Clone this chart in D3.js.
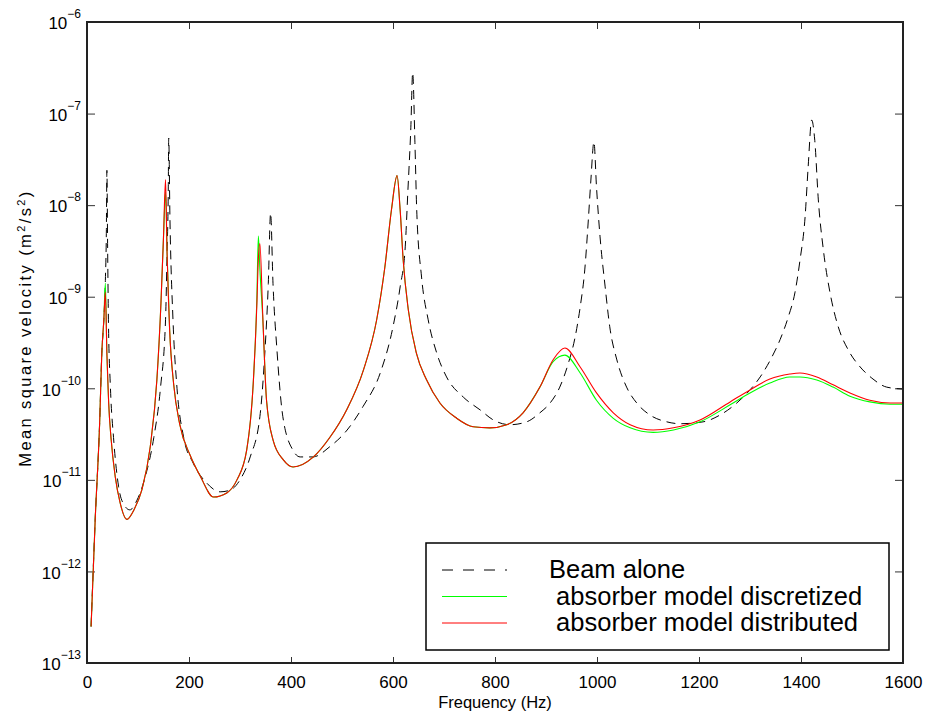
<!DOCTYPE html>
<html>
<head>
<meta charset="utf-8">
<script src="https://cdn.jsdelivr.net/npm/d3@7"></script>
<style>
  body { margin: 0; background: #fff; }
  svg { display: block; font-family: "Liberation Sans", Arial, sans-serif; }
</style>
</head>
<body>
<svg id="chart" width="926" height="714"></svg>
<script>
// beam alone (dashed)
var beamFreq = [8, 16, 25, 29, 33, 36, 38, 39, 40.5, 42, 46, 52, 62, 73, 84, 98, 114, 131, 144, 154,
    157, 159.4, 160.2, 162.7, 168.6, 176.5, 189.6, 208, 235, 261, 280, 300, 320, 339, 349, 355.5,
    360, 364.7, 372.5, 384, 404, 418, 443, 476, 510, 541, 575, 600, 614, 624, 629, 635, 638.6, 643,
    646.5, 656, 669, 686, 705, 738, 771, 797, 829, 862, 888, 908, 927, 944, 957, 967, 976, 983, 988,
    994, 999, 1006, 1016, 1025, 1039, 1058, 1078, 1104, 1137, 1163, 1208, 1241, 1274, 1300, 1320,
    1343, 1359, 1375, 1388, 1398, 1408, 1414, 1421, 1427, 1434, 1444, 1457, 1473, 1493, 1516, 1539,
    1568, 1600];
var beamAlone = [2.5e-13, 3.6e-12, 4.5e-11, 2.4e-10, 5.6e-10, 1.5e-9, 5.4e-9, 2.4e-8, 3.2e-9, 5.6e-10,
    1.0e-10, 2.9e-11, 8.4e-12, 5.3e-12, 4.7e-12, 6.0e-12, 1.07e-11, 2.9e-11, 1.0e-10, 5.6e-10,
    3.0e-9, 1.58e-8, 5.4e-8, 6.9e-9, 5.6e-10, 1.0e-10, 2.9e-11, 1.53e-11, 9.2e-12, 7.4e-12, 7.7e-12,
    1.0e-11, 1.78e-11, 4.9e-11, 2.6e-10, 1.4e-9, 8.2e-9, 1.4e-9, 2.6e-10, 4.9e-11, 2.1e-11, 1.78e-11,
    1.78e-11, 2.3e-11, 3.5e-11, 6.3e-11, 1.47e-10, 4.7e-10, 1.28e-9, 3.5e-9, 1.36e-8, 7.1e-8, 2.8e-7,
    4.8e-8, 8.9e-9, 1.64e-9, 5.6e-10, 2.4e-10, 1.33e-10, 8.0e-11, 5.8e-11, 4.5e-11, 4.0e-11, 4.3e-11,
    5.4e-11, 6.9e-11, 1.03e-10, 1.89e-10, 3.6e-10, 7.7e-10, 1.96e-9, 6.9e-9, 1.88e-8, 4.9e-8, 1.58e-8,
    4.5e-9, 1.28e-9, 4.7e-10, 2.04e-10, 1.03e-10, 6.9e-11, 5.1e-11, 4.3e-11, 4.1e-11, 4.3e-11, 5.1e-11,
    6.9e-11, 9.6e-11, 1.33e-10, 2.2e-10, 3.4e-10, 6.0e-10, 1.1e-9, 2.5e-9, 7.4e-9, 2.6e-8, 8.5e-8,
    5.1e-8, 1.14e-8, 3.2e-9, 1.1e-9, 4.7e-10, 2.6e-10, 1.71e-10, 1.29e-10, 1.03e-10, 9.8e-11];

// absorber models (solid)
var absFreq = [8, 16, 25, 29, 33, 36, 39, 42.5, 47, 55.5, 65, 78, 92, 108, 124, 137, 145, 150, 154,
    157, 162, 170, 182, 202, 222, 248, 274, 294, 313, 326, 333, 336, 339, 344.5, 352, 365, 385, 404,
    444, 476, 509, 542, 568, 584, 597, 608, 614, 620, 630, 646, 666, 692, 725, 757, 790, 823, 855,
    888, 914, 937, 967, 999, 1032, 1065, 1110, 1150, 1202, 1261, 1300, 1339, 1378, 1398, 1431, 1463,
    1496, 1535, 1575, 1600];
var absDiscretized = [2.5e-13, 3.6e-12, 4.5e-11, 2.4e-10, 5.6e-10, 1.4e-9, 2.4e-10, 6.9e-11, 2.9e-11,
    1.07e-11, 5.6e-12, 3.7e-12, 4.7e-12, 7.9e-12, 2.3e-11, 1.23e-10, 8.5e-10, 4.5e-9, 1.4e-8,
    3.0e-9, 4.4e-10, 1.1e-10, 4.0e-11, 1.87e-11, 1.1e-11, 6.5e-12, 7.2e-12, 1.0e-11, 2.1e-11,
    1.14e-10, 9.2e-10, 4.6e-9, 2.0e-9, 6.0e-10, 7.4e-11, 2.7e-11, 1.65e-11, 1.38e-11, 1.78e-11,
    2.9e-11, 5.8e-11, 1.58e-10, 5.6e-10, 2.1e-9, 8.9e-9, 2.1e-8, 8.9e-9, 2.5e-9, 7.2e-10, 2.4e-10,
    1.23e-10, 6.9e-11, 4.7e-11, 3.8e-11, 3.7e-11, 4.0e-11, 5.4e-11, 1.03e-10, 1.95e-10, 2.3e-10,
    1.47e-10, 7.4e-11, 4.7e-11, 3.7e-11, 3.3e-11, 3.5e-11, 4.3e-11, 6.6e-11, 8.9e-11, 1.14e-10,
    1.33e-10, 1.33e-10, 1.23e-10, 1.03e-10, 8.2e-11, 7.1e-11, 6.7e-11, 6.7e-11];
var absDistributed = [2.5e-13, 3.6e-12, 4.5e-11, 2.4e-10, 5.6e-10, 1.12e-9, 2.4e-10, 6.9e-11, 2.9e-11,
    1.07e-11, 5.6e-12, 3.7e-12, 4.7e-12, 7.9e-12, 2.3e-11, 1.23e-10, 8.5e-10, 4.5e-9, 1.9e-8,
    3.0e-9, 4.4e-10, 1.1e-10, 4.0e-11, 1.87e-11, 1.1e-11, 6.5e-12, 7.2e-12, 1.0e-11, 2.1e-11,
    1.14e-10, 8.0e-10, 2.6e-9, 3.8e-9, 6.5e-10, 7.4e-11, 2.7e-11, 1.65e-11, 1.38e-11, 1.78e-11,
    2.9e-11, 5.8e-11, 1.58e-10, 5.6e-10, 2.1e-9, 8.9e-9, 2.1e-8, 8.9e-9, 2.5e-9, 7.2e-10, 2.4e-10,
    1.23e-10, 6.9e-11, 4.7e-11, 3.8e-11, 3.7e-11, 4.0e-11, 5.4e-11, 1.03e-10, 2.05e-10, 2.75e-10,
    1.71e-10, 8.9e-11, 5.4e-11, 4.0e-11, 3.5e-11, 3.7e-11, 4.5e-11, 7.1e-11, 9.6e-11, 1.26e-10,
    1.43e-10, 1.47e-10, 1.33e-10, 1.09e-10, 8.9e-11, 7.4e-11, 6.9e-11, 6.9e-11];

var xTicks = [0, 200, 400, 600, 800, 1000, 1200, 1400, 1600];
var yExponents = [-13, -12, -11, -10, -9, -8, -7, -6];
var legendLabels = ["Beam alone", " absorber model discretized", " absorber model distributed"];

var svg = d3.select("#chart"),
    margin = { top: 22, right: 23, bottom: 51, left: 87 },
    width = +svg.attr("width") - margin.left - margin.right,
    height = +svg.attr("height") - margin.top - margin.bottom,
    g = svg.append("g").attr("transform", "translate(" + margin.left + "," + margin.top + ")");

var x = d3.scaleLinear().domain([0, 1600]).range([0, width]);
var y = d3.scaleLog().domain([1e-13, 1e-6]).range([height, 0]);
var yTickVals = yExponents.map(function (e) { return Math.pow(10, e); });

g.append("clipPath").attr("id", "clip")
    .append("rect").attr("width", width).attr("height", height);

// ticks point inward, on all four sides
g.append("g")
    .attr("class", "x axis")
    .attr("transform", "translate(0," + height + ")")
    .call(d3.axisBottom(x).tickValues(xTicks).tickFormat(d3.format("d"))
        .tickSizeInner(-6).tickSizeOuter(0).tickPadding(13));
g.append("g")
    .call(d3.axisTop(x).tickValues(xTicks).tickSizeInner(-7).tickSizeOuter(0).tickFormat(""));
g.append("g")
    .attr("class", "y axis")
    .call(d3.axisLeft(y).tickValues(yTickVals).tickSizeInner(-8).tickSizeOuter(0).tickPadding(6));
g.append("g")
    .attr("transform", "translate(" + width + ",0)")
    .call(d3.axisRight(y).tickValues(yTickVals).tickSizeInner(-8).tickSizeOuter(0).tickFormat(""));

g.selectAll(".domain").remove();
g.selectAll(".tick line").attr("stroke", "#333");
g.selectAll(".x.axis .tick text").attr("font-size", 17).attr("font-family", null).attr("fill", "#000");

// 10 with superscript exponent
g.selectAll(".y.axis .tick text")
    .attr("font-size", 17).attr("font-family", null).attr("fill", "#000").attr("dy", "0.4em")
    .each(function (d) {
        var t = d3.select(this).text(null);
        var e = Math.round(Math.log10(d));
        t.append("tspan").text("10");
        t.append("tspan").attr("dy", -11).attr("font-size", 12).text("\u2212" + Math.abs(e));
    });

var line = d3.line()
    .x(function (d) { return x(d[0]); })
    .y(function (d) { return y(d[1]); })
    .curve(d3.curveMonotoneX);

var curves = g.append("g").attr("clip-path", "url(#clip)");

curves.append("path")
    .datum(d3.zip(beamFreq, beamAlone))
    .attr("fill", "none").attr("stroke", "#000").attr("stroke-width", 1)
    .attr("stroke-dasharray", "9,6")
    .attr("d", line);
curves.append("path")
    .datum(d3.zip(absFreq, absDiscretized))
    .attr("fill", "none").attr("stroke", "#00ff00").attr("stroke-width", 1.1)
    .attr("d", line);
curves.append("path")
    .datum(d3.zip(absFreq, absDistributed))
    .attr("fill", "none").attr("stroke", "#ff0000").attr("stroke-width", 1.1)
    .attr("d", line);

// frame
g.append("rect")
    .attr("width", width).attr("height", height)
    .attr("fill", "none").attr("stroke", "#222").attr("stroke-width", 2);

g.append("text")
    .attr("x", width / 2).attr("y", height + 45)
    .attr("text-anchor", "middle").attr("font-size", 16.5)
    .text("Frequency (Hz)");

var yl = svg.append("text")
    .attr("transform", "translate(31,328) rotate(-90)")
    .attr("text-anchor", "middle").attr("font-size", 16.5)
    .attr("letter-spacing", 2.4);
yl.append("tspan").text("Mean square velocity (m");
yl.append("tspan").attr("dy", -6).attr("font-size", 11).text("2");
yl.append("tspan").attr("dy", 6).text("/s");
yl.append("tspan").attr("dy", -6).attr("font-size", 11).text("2");
yl.append("tspan").attr("dy", 6).text(")");

// legend
var legend = svg.append("g").attr("transform", "translate(426,543)");
legend.append("rect")
    .attr("width", 463).attr("height", 107)
    .attr("fill", "#fff").attr("stroke", "#000").attr("stroke-width", 1.5);

var legendStyles = [
    { color: "#000", dash: "11,10" },
    { color: "#00ff00", dash: null },
    { color: "#ff0000", dash: null }
];

var item = legend.selectAll(".item")
    .data(legendLabels)
    .enter().append("g")
    .attr("class", "item")
    .attr("transform", function (d, i) { return "translate(0," + (27 + i * 26.5) + ")"; });

item.append("line")
    .attr("x1", 16).attr("x2", 81)
    .attr("stroke", function (d, i) { return legendStyles[i].color; })
    .attr("stroke-dasharray", function (d, i) { return legendStyles[i].dash; })
    .attr("stroke-width", 1);

item.append("text")
    .attr("x", 123).attr("y", 8)
    .attr("font-size", 25.5)
    .attr("xml:space", "preserve")
    .style("white-space", "pre")
    .text(function (d) { return d; });
</script>
</body>
</html>
